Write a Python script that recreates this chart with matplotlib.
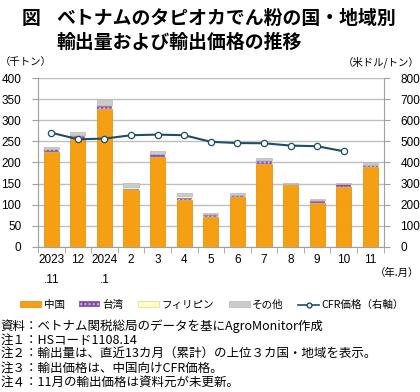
import matplotlib
matplotlib.use("Agg")
import matplotlib.pyplot as plt
from matplotlib.patches import Patch
from matplotlib.lines import Line2D
import numpy as np

plt.rcParams['font.family'] = ['Noto Sans CJK JP', 'DejaVu Sans']

# data
months = ["2023\n.11", "12", "2024\n.1", "2", "3", "4", "5", "6", "7", "8", "9", "10", "11"]
china = [226, 255, 327, 134, 212, 112, 71, 118, 197, 146, 104, 142, 189]
taiwan = [5, 8, 6, 3, 7, 5, 5, 4, 7, 3, 5, 6, 5]
philippines = [1, 2, 2, 4, 2, 4, 1, 1, 2, 1, 1, 1, 1]
others = [5, 7, 12, 11, 6, 6, 4, 4, 4, 2, 3, 3, 3]
cfr_price = [541, 510, 513, 529, 532, 529, 498, 492, 491, 480, 477, 453, None]

c_china = "#F4A012"
c_taiwan = "#7E4BA6"
c_phil = "#FFFFC4"
c_other = "#CBCBCB"
c_line = "#1F4E66"
num_font = ["Liberation Sans", "DejaVu Sans"]

fig = plt.figure(figsize=(4.2, 3.92), dpi=100)
ax = fig.add_axes([0.0905, 0.370, 0.823, 0.431])

x = np.arange(len(months))
w = 0.57
bottom = np.zeros(len(months))
ax.bar(x, china, w, bottom=bottom, color=c_china, edgecolor="#E08A00", linewidth=0.5, zorder=3)
bottom += china
ax.bar(x, taiwan, w, bottom=bottom, color=c_taiwan, edgecolor="#CFC0DD", linewidth=0.3, hatch="....", zorder=3)
bottom += taiwan
ax.bar(x, philippines, w, bottom=bottom, color=c_phil, edgecolor="#D8D8A0", linewidth=0.3, zorder=3)
bottom += philippines
ax.bar(x, others, w, bottom=bottom, color=c_other, edgecolor="#B8B8B8", linewidth=0.5, zorder=3)

ax.set_xlim(-0.5, len(months) - 0.5)
ax.set_ylim(0, 400)
ax.set_yticks(range(0, 401, 50))
ax.grid(axis="y", color="#BFBFBF", linewidth=1.0, zorder=0)
ax.set_xticks(x)
ax.set_xticklabels(months, fontsize=8.5, linespacing=1.9, fontfamily=num_font)
ax.set_xticks(np.arange(-0.5, len(months), 1), minor=True)
ax.tick_params(axis="x", which="major", length=0, pad=5)
ax.tick_params(axis="x", which="minor", length=4, color="#A0A0A0")
ax.tick_params(axis="y", length=4, color="#A0A0A0", labelsize=8.5, pad=8)
for t in ax.get_yticklabels():
    t.set_fontfamily(num_font)
for s in ["top", "right"]:
    ax.spines[s].set_visible(False)
ax.spines["left"].set_color("#A0A0A0")
ax.spines["bottom"].set_color("#A0A0A0")

ax2 = ax.twinx()
ax2.set_ylim(0, 800)
ax2.set_yticks(range(0, 801, 100))
px = [i for i, v in enumerate(cfr_price) if v is not None]
py = [v for v in cfr_price if v is not None]
ax2.plot(px, py, color=c_line, linewidth=1.5, marker="o", markersize=4.5,
         markerfacecolor="white", markeredgecolor=c_line, markeredgewidth=0.9, zorder=5)
ax2.tick_params(axis="y", length=4, color="#A0A0A0", labelsize=8.5, pad=8)
for t in ax2.get_yticklabels():
    t.set_fontfamily(num_font)
for s in ["top", "left", "bottom"]:
    ax2.spines[s].set_visible(False)
ax2.spines["right"].set_color("#A0A0A0")

# titles and unit labels
fig.text(0.052, 0.978, "図", fontsize=13.6, va="top", fontweight="bold")
fig.text(0.135, 0.978, "ベトナムのタピオカでん粉の国・地域別", fontsize=13.6, va="top", fontweight="bold")
fig.text(0.135, 0.915, "輸出量および輸出価格の推移", fontsize=13.6, va="top", fontweight="bold")
fig.text(0.0, 0.842, "（千トン）", fontsize=7.5, va="center")
fig.text(0.998, 0.842, "（米ドル/トン）", fontsize=7.5, va="center", ha="right")
fig.text(0.998, 0.303, "（年.月）", fontsize=7.5, va="center", ha="right")

handles = [
    Patch(facecolor=c_china, edgecolor="#E08A00", linewidth=0.5),
    Patch(facecolor=c_taiwan, edgecolor="#CFC0DD", hatch="....", linewidth=0.3),
    Patch(facecolor=c_phil, edgecolor="#D8D8A0", linewidth=0.5),
    Patch(facecolor=c_other, edgecolor="#B8B8B8", linewidth=0.5),
    Line2D([0], [0], color=c_line, linewidth=1.2, marker="o", markersize=3.5,
           markerfacecolor="white", markeredgecolor=c_line),
]
labels = ["中国", "台湾", "フィリピン", "その他", "CFR価格（右軸）"]
fig.legend(handles, labels, loc="center", bbox_to_anchor=(0.505, 0.222), ncol=5, frameon=False,
           fontsize=7.6, handlelength=2.0, handleheight=0.5, handletextpad=0.2, columnspacing=1.4)

notes = [
    "資料：ベトナム関税総局のデータを基にAgroMonitor作成",
    "注１：HSコード1108.14",
    "注２：輸出量は、直近13カ月（累計）の上位３カ国・地域を表示。",
    "注３：輸出価格は、中国向けCFR価格。",
    "注４：11月の輸出価格は資料元が未更新。",
]
for i, n in enumerate(notes):
    fig.text(0.002, 0.168 - i * 0.0355, n, fontsize=9.0, va="center")

fig.savefig("out.png", dpi=100)
